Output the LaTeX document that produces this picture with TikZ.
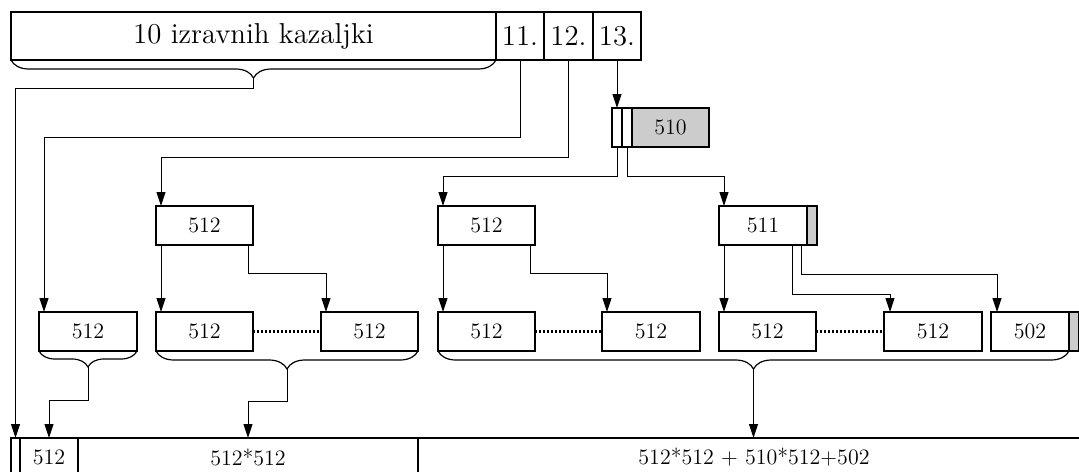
\documentclass[tikz,border=0pt]{standalone}
\usetikzlibrary{arrows.meta,calc,decorations.pathreplacing}

\def\pu{0.5pt} % one grid unit

\tikzset{
  cell/.style={draw, line width=0.6pt, inner sep=0, outer sep=0, anchor=north west,
    minimum width=#1*\pu, minimum height=39*\pu, font=\fontsize{11}{13}\selectfont},
  filled/.style={cell=#1, fill=gray!40},
  ptr/.style={cell=#1, minimum height=48*\pu, font=\Large},
  link/.style={line width=0.5pt, -{Triangle[length=7pt,width=4.5pt]}},
  brc/.style={decorate, decoration={brace, mirror, amplitude=#1}, line width=0.6pt},
  gap/.style={line width=1.4pt, dash pattern=on 1.2pt off 0.8pt},
}

\begin{document}
\begin{tikzpicture}[x=0.5pt, y=-0.5pt]
  \useasboundingbox (0,0) rectangle (1079,471);

  % inode pointers
  \node[ptr=485] (dir) at (11,12) {10 izravnih kazaljki};
  \node[ptr=48] (p11) at (dir.north east) {11.};
  \node[ptr=49] (p12) at (p11.north east) {12.};
  \node[ptr=48] (p13) at (p12.north east) {13.};

  % triple indirect block
  \node[cell=10] (i1) at (612,108) {};
  \node[cell=10] (i2) at (i1.north east) {};
  \node[filled=77] (i3) at (i2.north east) {510};

  % index blocks
  \node[cell=97] (m1) at (156,206) {512};
  \node[cell=97] (m2) at (438,206) {512};
  \node[cell=88] (m3) at (719,206) {511};
  \node[filled=10] (m3s) at (m3.north east) {};

  % data pointer blocks
  \node[cell=98] (a) at (39,312) {512};
  \node[cell=97] (b) at (156,312) {512};
  \node[cell=97] (c) at (321,312) {512};
  \node[cell=97] (d) at (438,312) {512};
  \node[cell=98] (e) at (602,312) {512};
  \node[cell=97] (f) at (719,312) {512};
  \node[cell=98] (g) at (884,312) {512};
  \node[cell=78] (h) at (991,312) {502};
  \node[filled=10] (hs) at (h.north east) {};

  \draw[gap] (b) -- (c);
  \draw[gap] (d) -- (e);
  \draw[gap] (f) -- (g);

  % file blocks
  \node[cell=9] (f0) at (11,438) {};
  \node[cell=58] (f1) at (f0.north east) {512};
  \node[cell=340] (f2) at (f1.north east) {512*512};
  \node[cell=672] (f3) at (f2.north east) {512*512 + 510*512+502};

  % braces
  \draw[brc=9pt] (dir.south west) -- (dir.south east);
  \coordinate (dirtip) at ($(dir.south)+(0,18)$);
  \draw[brc=8pt] (a.south west) -- (a.south east);
  \coordinate (atip) at ($(a.south)+(0,16)$);
  \draw[brc=9pt] (b.south west) -- (c.south east);
  \coordinate (bctip) at ($(b.south west)!0.5!(c.south east)+(0,18)$);
  \draw[brc=9pt] (d.south west) -- (h.south east);
  \coordinate (dhtip) at ($(d.south west)!0.5!(h.south east)+(0,18)$);

  % pointers
  \draw[link] (dirtip) -- ++(0,10) -| (f0.north);
  \draw[link] (p11.south) -- ++(0,77) -| ($(a.north west)+(5,0)$);
  \draw[link] (p12.south) -- ++(0,97) -| ($(m1.north west)+(5,0)$);
  \draw[link] (p13.south) -- (i1.north);
  \draw[link] (i1.south) -- ++(0,29) -| ($(m2.north west)+(5,0)$);
  \draw[link] (i2.south) -- ++(0,29) -| ($(m3.north west)+(5,0)$);

  \draw[link] ($(m1.south west)+(5,0)$) -- ($(b.north west)+(5,0)$);
  \draw[link] ($(m1.south east)+(-5,0)$) -- ++(0,28) -| ($(c.north west)+(5,0)$);
  \draw[link] ($(m2.south west)+(5,0)$) -- ($(d.north west)+(5,0)$);
  \draw[link] ($(m2.south east)+(-5,0)$) -- ++(0,28) -| ($(e.north west)+(5,0)$);
  \draw[link] ($(m3.south west)+(5,0)$) -- ($(f.north west)+(5,0)$);
  \draw[link] ($(m3.south east)+(-15,0)$) -- ++(0,49) -| ($(g.north west)+(6,0)$);
  \draw[link] ($(m3.south east)+(-6,0)$) -- ++(0,29) -| ($(h.north west)+(6,0)$);

  \draw[link] (atip) -- ++(0,33) -| (f1.north);
  \draw[link] (bctip) -- ++(0,32) -| (f2.north);
  \draw[link] (dhtip) -- (dhtip |- f3.north);
\end{tikzpicture}
\end{document}
